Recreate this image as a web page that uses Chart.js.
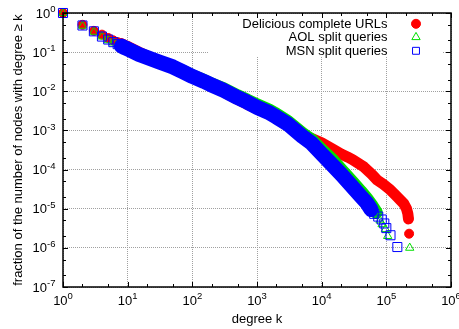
<!DOCTYPE html>
<html><head><meta charset="utf-8">
<script src="https://cdn.jsdelivr.net/npm/chart.js@4"></script>
<style>html,body{margin:0;padding:0;background:#fff;overflow:hidden}</style>
</head><body>
<canvas id="c" width="459" height="329"></canvas>
<script>
// ---- data ----
const seriesNames = ['Delicious complete URLs', 'AOL split queries', 'MSN split queries'];
const delK = [1,2,3,4,5,6,7,8,9,10,15,20,30,50,70,100,150,200,300,500,700,1000,1500,2000,3000,5000,7000,10000,15000,20000,25000,30000,45000,60000,72000,90000,116000,140000,186000,205000,215000,220000,225000];
const delP = [1,0.5,0.35,0.28,0.23,0.2,0.18,0.165,0.15,0.14,0.1,0.08,0.06,0.042,0.032,0.024,0.0175,0.0138,0.0098,0.0062,0.0047,0.0036,0.0027,0.0021,0.00145,0.0008,0.00062,0.00048,0.00033,0.00025,0.00021,0.00018,0.000117,0.000075,0.000054,0.000042,0.00003,0.000022,0.0000135,0.00001,0.0000075,0.0000055,0.0000023];
const aolK = [1,2,3,4,5,6,7,8,9,10,15,20,30,50,70,100,150,200,300,500,700,1000,1500,2000,3000,5000,7000,10000,15000,20000,30000,40000,50000,60000,70000,80000,86000,97000,105000,230000];
const aolP = [1,0.47,0.33,0.25,0.2,0.175,0.155,0.14,0.128,0.118,0.087,0.073,0.057,0.042,0.033,0.025,0.019,0.0153,0.0118,0.0077,0.006,0.0045,0.0034,0.0026,0.0017,0.00085,0.00057,0.00032,0.00017,0.0001,0.000048,0.000028,0.000018,0.000012,0.000008,0.000005,0.000004,0.000003,0.000002,0.000001];
const msnK = [1,2,3,4,5,6,7,8,9,10,15,20,30,50,70,100,150,200,300,500,700,1000,1500,2000,3000,5000,7000,10000,15000,20000,30000,40000,50000,58000,65000,75000,85000,93000,100000,116000,148000];
const msnP = [1,0.48,0.34,0.25,0.21,0.18,0.16,0.143,0.13,0.12,0.087,0.073,0.057,0.042,0.032,0.024,0.018,0.0144,0.0107,0.0069,0.0053,0.0039,0.0029,0.0022,0.00145,0.00071,0.00047,0.00025,0.000125,0.000076,0.000036,0.000021,0.000014,0.0000095,0.0000074,0.0000063,0.0000053,0.0000042,0.0000032,0.0000021,0.00000105];
// range (by k) in which each series' markers merge into a solid band
const delDense = [8, 220000];
const aolDense = [8, 70000];
const msnDense = [8, 58000];
const xTickExps = [0,1,2,3,4,5,6];
const yTickExps = [0,-1,-2,-3,-4,-5,-6,-7];
const xTitle = 'degree k';
const yTitle = 'fraction of the number of nodes with degree \u2265 k';

const FONT = '"Liberation Sans", Arial, Helvetica, sans-serif';
const pts = (K, P) => K.map((k, i) => ({x: k, y: P[i]}));
const dense = (K, P, r) => pts(K, P).filter(p => p.x >= r[0] && p.x <= r[1]);

const RED = '#ff0000', GREEN = '#00e000', BLUE = '#0000ff';

const datasets = [
  {label: seriesNames[2], data: pts(msnK, msnP), showLine: false, pointStyle: 'rect', pointRadius: 6.4,
   borderColor: BLUE, backgroundColor: 'rgba(0,0,0,0)', borderWidth: 1, order: 1, clip: false},
  {label: '_band_msn', data: dense(msnK, msnP, msnDense), showLine: true, pointRadius: 0, borderColor: BLUE,
   borderWidth: 15, borderCapStyle: 'round', borderJoinStyle: 'round', order: 2},
  {label: seriesNames[1], data: pts(aolK, aolP), showLine: false, pointStyle: 'triangle', pointRadius: 4.8,
   borderColor: GREEN, backgroundColor: 'rgba(0,0,0,0)', borderWidth: 1, order: 3, clip: false},
  {label: '_band_aol', data: dense(aolK, aolP, aolDense), showLine: true, pointRadius: 0, borderColor: GREEN,
   borderWidth: 13, borderCapStyle: 'round', borderJoinStyle: 'round', order: 4},
  {label: seriesNames[0], data: pts(delK, delP), showLine: false, pointStyle: 'circle', pointRadius: 4.5,
   borderColor: RED, backgroundColor: RED, borderWidth: 1, order: 5, clip: false},
  {label: '_band_del', data: dense(delK, delP, delDense), showLine: true, pointRadius: 0, borderColor: RED,
   borderWidth: 11, borderCapStyle: 'round', borderJoinStyle: 'round', order: 6},
];

function drawPow(ctx, exp, x, y, align) {
  const base = '10', sup = String(exp);
  ctx.font = '13px ' + FONT;
  const wb = ctx.measureText(base).width;
  ctx.font = '9.5px ' + FONT;
  const ws = ctx.measureText(sup).width;
  const total = wb + ws;
  const x0 = align === 'center' ? x - total / 2 : x - total;
  ctx.textAlign = 'left';
  ctx.textBaseline = 'alphabetic';
  ctx.font = '13px ' + FONT;
  ctx.fillText(base, x0, y);
  ctx.font = '9.5px ' + FONT;
  ctx.fillText(sup, x0 + wb, y - 5.5);
}

const deco = {
  id: 'deco',
  beforeDatasetsDraw(chart) {
    const ctx = chart.ctx;
    ctx.save();
    ctx.fillStyle = '#ffffff';
    ctx.fillRect(209, 14, 233, 43);
    ctx.restore();
  },
  afterDraw(chart) {
    const ctx = chart.ctx, a = chart.chartArea;
    const xs = chart.scales.x, ys = chart.scales.y;
    ctx.save();
    // frame
    ctx.strokeStyle = '#000';
    ctx.lineWidth = 1.5;
    ctx.strokeRect(a.left, a.top, a.right - a.left, a.bottom - a.top);
    // ticks
    ctx.lineWidth = 1;
    ctx.beginPath();
    xTickExps.forEach(e => {
      [1, 2, 5].forEach(m => {
        const v = m * Math.pow(10, e);
        if (v > 1e6) return;
        const px = Math.round(xs.getPixelForValue(v)) + 0.5;
        const L = m === 1 ? 5 : 3;
        ctx.moveTo(px, a.bottom); ctx.lineTo(px, a.bottom - L);
        ctx.moveTo(px, a.top); ctx.lineTo(px, a.top + L);
      });
    });
    yTickExps.forEach(e => {
      [1, 2, 5].forEach(m => {
        const v = m * Math.pow(10, e);
        if (v > 1) return;
        const py = Math.round(ys.getPixelForValue(v)) + 0.5;
        const L = m === 1 ? 5 : 3;
        ctx.moveTo(a.left, py); ctx.lineTo(a.left + L, py);
        ctx.moveTo(a.right, py); ctx.lineTo(a.right - L, py);
      });
    });
    ctx.stroke();
    // tick labels
    ctx.fillStyle = '#000';
    xTickExps.forEach(e => drawPow(ctx, e, xs.getPixelForValue(Math.pow(10, e)), 304.5, 'center'));
    yTickExps.forEach(e => drawPow(ctx, e, 55.5, ys.getPixelForValue(Math.pow(10, e)) + 4.6, 'right'));
    // axis titles
    ctx.font = '13px ' + FONT;
    ctx.textAlign = 'center';
    ctx.textBaseline = 'alphabetic';
    ctx.fillText(xTitle, (a.left + a.right) / 2, 322.5);
    ctx.save();
    ctx.translate(22, (a.top + a.bottom) / 2);
    ctx.rotate(-Math.PI / 2);
    ctx.fillText(yTitle, 0, 0);
    ctx.restore();
    // legend
    const legendSets = [datasets[4], datasets[2], datasets[0]];
    const baselines = [27.8, 41.2, 54.8];
    ctx.textAlign = 'right';
    legendSets.forEach((ds, i) => {
      ctx.fillStyle = '#000';
      ctx.font = '13px ' + FONT;
      ctx.fillText(ds.label, 387.5, baselines[i]);
      ctx.strokeStyle = ds.borderColor;
      ctx.fillStyle = ds.backgroundColor;
      ctx.lineWidth = ds.borderWidth;
      Chart.helpers.drawPoint(ctx, {pointStyle: ds.pointStyle, radius: ds.pointRadius - (ds.pointStyle === 'rect' ? 1.5 : 0), borderWidth: ds.borderWidth, rotation: 0}, 416, baselines[i] - 4);
    });
    ctx.restore();
  }
};

function logScale(minE, maxE, exps) {
  return {
    type: 'logarithmic',
    min: Math.pow(10, minE), max: Math.pow(10, maxE),
    ticks: {display: false},
    grid: {color: '#a0a0a0', lineWidth: 1, drawTicks: false},
    border: {display: false, dash: [1, 1]},
    afterBuildTicks: s => { s.ticks = exps.map(e => ({value: Math.pow(10, e)})); }
  };
}

new Chart(document.getElementById('c'), {
  type: 'scatter',
  data: {datasets},
  plugins: [deco],
  options: {
    responsive: false, devicePixelRatio: 1, animation: false,
    layout: {padding: {left: 63, right: 8, top: 13, bottom: 42}},
    plugins: {legend: {display: false}, tooltip: {enabled: false}},
    elements: {line: {tension: 0}},
    scales: {x: logScale(0, 6, xTickExps), y: logScale(-7, 0, yTickExps)}
  }
});
</script>
</body></html>
